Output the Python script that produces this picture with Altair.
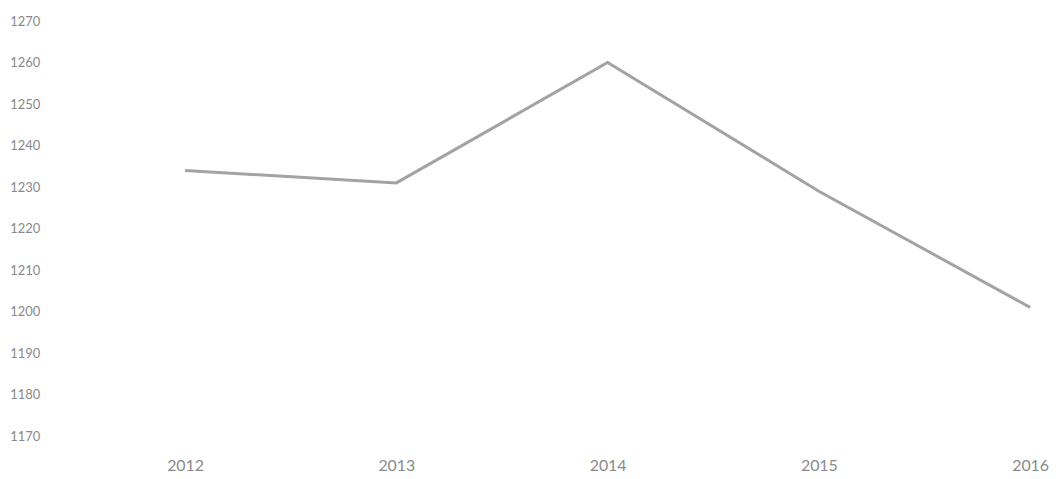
import altair as alt
import pandas as pd

years = [2012, 2013, 2014, 2015, 2016]
values = [1234, 1231, 1260, 1229, 1201]
y_ticks = [1170, 1180, 1190, 1200, 1210, 1220, 1230, 1240, 1250, 1260, 1270]

df = pd.DataFrame({"year": years, "value": values})

chart = alt.Chart(df).mark_line(color="#a3a3a3", strokeWidth=3).encode(
    x=alt.X("year:Q",
            scale=alt.Scale(domain=[2011.336, 2016.047], nice=False, zero=False),
            axis=alt.Axis(values=years, format="d", title=None, domain=False, ticks=False,
                          grid=False, labelPadding=22, labelFontSize=16, labelColor="#8a8a8a",
                          labelFont="Lato", labelFlush=False)),
    y=alt.Y("value:Q",
            scale=alt.Scale(domain=[1170, 1270], nice=False, zero=False),
            axis=alt.Axis(values=y_ticks, format="d", title=None, domain=False, ticks=False,
                          grid=False, labelPadding=5, labelFontSize=13, labelColor="#8a8a8a",
                          labelFont="Lato")),
).properties(
    width=1000, height=417,
    autosize=alt.AutoSizeParams(type="none"),
    padding={"left": 37, "top": 12, "right": 10, "bottom": 40},
).configure_view(stroke=None)

chart.save("out.html", embed_options={"renderer": "svg", "actions": False})
